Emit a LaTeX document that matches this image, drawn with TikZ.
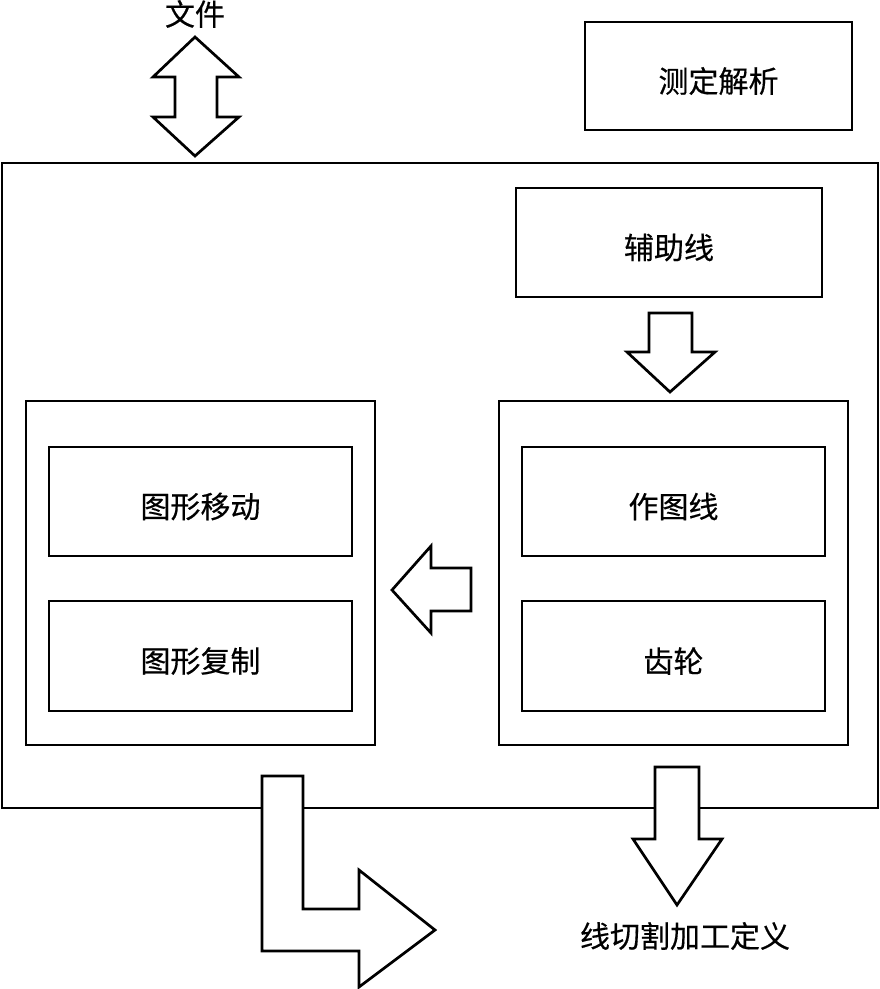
\documentclass[tikz,border=0pt]{standalone}
\usepackage{fontspec}
\newfontfamily\cjk[FakeBold=0.4]{Noto Sans CJK SC}
\usetikzlibrary{positioning, calc}
\definecolor{inkline}{HTML}{000000}
\tikzset{
  boxnode/.style={draw=inkline, line width=2.7pt, fill=white, inner sep=0pt},
  blockarrow/.style={draw=inkline, line width=2.7pt, fill=white, line join=miter},
}
\newcommand{\funcbox}[5]{%
  \node[boxnode, minimum width=#3, minimum height=#4] (#1) at (#2) {};
  \node[yshift=-5pt] (#1-text) at (#1.center) {#5};}

\begin{document}
\begin{tikzpicture}[x=1pt, y=-1pt, font=\cjk\fontsize{30}{34}\selectfont]
  \useasboundingbox (0,0) rectangle (880,989);
  % outer frame
  \funcbox{frame}{440,485.5}{876}{645}{}
  \funcbox{measure}{718.5,76}{267}{108}{测定解析}
  \funcbox{aux}{669,242.5}{306}{109}{辅助线}
  % left group
  \funcbox{leftgrp}{200.5,573}{349}{344}{}
  \funcbox{move}{200.5,501.5}{303}{109}{图形移动}
  \funcbox{copy}{200.5,656}{303}{110}{图形复制}
  % right group
  \funcbox{rightgrp}{673.5,573}{349}{344}{}
  \funcbox{draft}{673.5,501.5}{303}{109}{作图线}
  \funcbox{gear}{673.5,656}{303}{110}{齿轮}
  % outside labels
  \node (file) at (195,14) {文件};
  \node (wire) at (685,936) {线切割加工定义};
  % block arrows
  \draw[blockarrow] (195,37) -- (239,77) -- (217,77) -- (217,117) -- (239,117)
    -- (195,156) -- (153,117) -- (175,117) -- (175,77) -- (153,77) -- cycle;
  \draw[blockarrow] (649,313) -- (692,313) -- (692,352) -- (715,352) -- (670,392)
    -- (627,352) -- (649,352) -- cycle;
  \draw[blockarrow] (471,568) -- (471,611) -- (431,611) -- (431,633) -- (392,590)
    -- (431,546) -- (431,568) -- cycle;
  \draw[blockarrow] (655,767) -- (699,767) -- (699,839) -- (722,839) -- (677,905)
    -- (633,839) -- (655,839) -- cycle;
  \draw[blockarrow] (262,776) -- (303,776) -- (303,909) -- (359,909) -- (359,870)
    -- (435,930) -- (359,987) -- (359,951) -- (262,951) -- cycle;
\end{tikzpicture}
\end{document}
